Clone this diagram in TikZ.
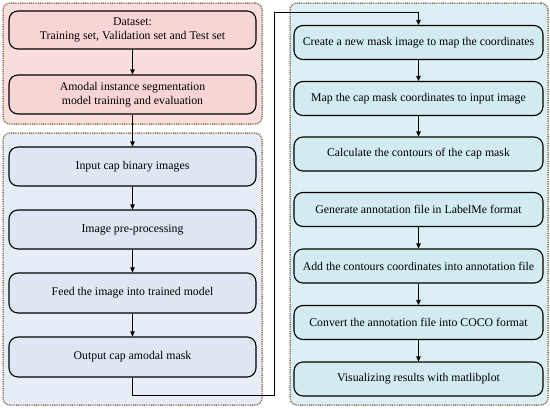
\documentclass[tikz,border=0pt]{standalone}
\usepackage{fontspec}
\setmainfont{Liberation Serif}
\usetikzlibrary{arrows.meta}
\definecolor{pinkC}{HTML}{FADEDE}
\definecolor{pinkB}{HTML}{F8D5D5}
\definecolor{blueC}{HTML}{E7EDF6}
\definecolor{blueB}{HTML}{DDE6F2}
\definecolor{cyanC}{HTML}{DCEFF4}
\definecolor{cyanB}{HTML}{D2EBF1}
\definecolor{dotbrown}{HTML}{8A6E55}
\tikzset{
  container/.style={draw=dotbrown, line width=1.5pt, dash pattern=on 0.9pt off 0.9pt, rounded corners=7pt},
  lbox/.style={draw=black, line width=1.1pt, rounded corners=9pt, fill=pinkB, minimum width=247pt, align=center, font=\fontsize{11.8pt}{14pt}\selectfont, inner sep=0pt},
  bbox/.style={lbox, fill=blueB},
  rbox/.style={lbox, fill=cyanB, minimum width=249pt, minimum height=34pt},
  arr/.style={draw=black, line width=0.9pt, -{Triangle[length=5pt,width=4.5pt]}}
}
\begin{document}
\begin{tikzpicture}[x=1pt,y=-1pt]
\useasboundingbox (0,0) rectangle (550,408);
% containers
\node[container, fill=pinkC, minimum width=259pt, minimum height=121pt, inner sep=0pt] (pinkbox) at (132.5,63.5) {};
\node[container, fill=blueC, minimum width=259pt, minimum height=272pt, inner sep=0pt] (bluebox) at (132.5,269) {};
\node[container, fill=cyanC, minimum width=258pt, minimum height=402pt, inner sep=0pt] (cyanbox) at (419,204) {};
% left boxes
\node[lbox, minimum height=38pt] (data) at (132.5,30) {Dataset:\\Training set, Validation set and Test set};
\node[lbox, minimum height=39pt] (amodal) at (132.5,94.5) {Amodal instance segmentation\\model training and evaluation};
\node[bbox, minimum height=39pt] (input) at (132.5,166.5) {Input cap binary images};
\node[bbox, minimum height=39pt] (prep) at (132.5,229.5) {Image pre-processing};
\node[bbox, minimum height=40pt] (feed) at (132.5,293) {Feed the image into trained model};
\node[bbox, minimum height=40pt] (output) at (132.5,357) {Output cap amodal mask};
% right boxes
\node[rbox] (create) at (418.5,42.5) {Create a new mask image to map the coordinates};
\node[rbox] (mapc) at (418.5,98.5) {Map the cap mask coordinates to input image};
\node[rbox] (calc) at (418.5,154) {Calculate the contours of the cap mask};
\node[rbox] (gen) at (418.5,209.5) {Generate annotation file in LabelMe format};
\node[rbox] (add) at (418.5,266) {Add the contours coordinates into annotation file};
\node[rbox] (conv) at (418.5,322.5) {Convert the annotation file into COCO format};
\node[rbox] (vis) at (418.5,379) {Visualizing results with matlibplot};
% connectors
\draw[arr] (data) -- (amodal);
\draw[arr] (amodal) -- (input);
\draw[arr] (input) -- (prep);
\draw[arr] (prep) -- (feed);
\draw[arr] (feed) -- (output);
\coordinate (c1) at (132.5,395);
\coordinate (c2) at (274,395);
\coordinate (c3) at (274,12);
\coordinate (c4) at (418.5,12);
\draw[arr] (output.south) -- (c1) -- (c2) -- (c3) -- (c4) -- (create.north);
\draw[arr] (create) -- (mapc);
\draw[arr] (mapc) -- (calc);
\draw[arr] (gen) -- (add);
\draw[arr] (add) -- (conv);
\draw[arr] (conv) -- (vis);
\end{tikzpicture}
\end{document}
